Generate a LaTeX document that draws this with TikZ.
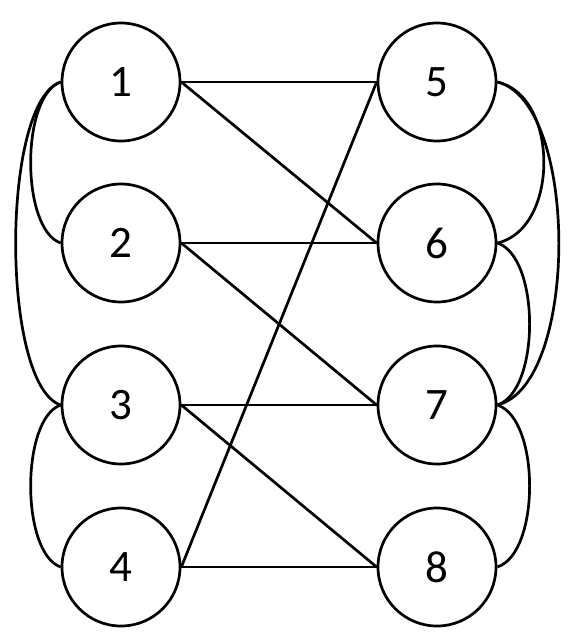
\documentclass[tikz,border=0pt]{standalone}
\usepackage{fontspec}
\setmainfont{Carlito}
\begin{document}
\begin{tikzpicture}[x=1pt,y=-1pt,
  vtx/.style={circle,draw,line width=2.7pt,minimum size=118pt,inner sep=0pt,fill=white,font=\fontsize{45}{45}\selectfont},
  edge/.style={line width=2.7pt}]
\useasboundingbox (0,0) rectangle (574,643);
\node[vtx] (n1) at (121,82) {1};
\node[vtx] (n2) at (121,243) {2};
\node[vtx] (n3) at (121,405) {3};
\node[vtx] (n4) at (121,567) {4};
\node[vtx] (n5) at (437,82) {5};
\node[vtx] (n6) at (437,243) {6};
\node[vtx] (n7) at (437,405) {7};
\node[vtx] (n8) at (437,567) {8};
% straight edges
\draw[edge] (n1.east) -- (n5.west);
\draw[edge] (n1.east) -- (n6.west);
\draw[edge] (n2.east) -- (n6.west);
\draw[edge] (n2.east) -- (n7.west);
\draw[edge] (n3.east) -- (n7.west);
\draw[edge] (n3.east) -- (n8.west);
\draw[edge] (n4.east) -- (n8.west);
\draw[edge] (n4.east) -- (n5.west);
% left curves
\draw[edge] (n1.west) .. controls +(-40,14) and +(-40,-14) .. (n2.west);
\draw[edge] (n1.west) .. controls +(-60,20) and +(-60,-20) .. (n3.west);
\draw[edge] (n3.west) .. controls +(-40,14) and +(-40,-14) .. (n4.west);
% right curves
\draw[edge] (n5.east) .. controls +(62,14) and +(62,-14) .. (n6.east);
\draw[edge] (n5.east) .. controls +(82,20) and +(82,-20) .. (n7.east);
\draw[edge] (n6.east) .. controls +(43,14) and +(43,-14) .. (n7.east);
\draw[edge] (n7.east) .. controls +(43,14) and +(43,-14) .. (n8.east);
\end{tikzpicture}
\end{document}
